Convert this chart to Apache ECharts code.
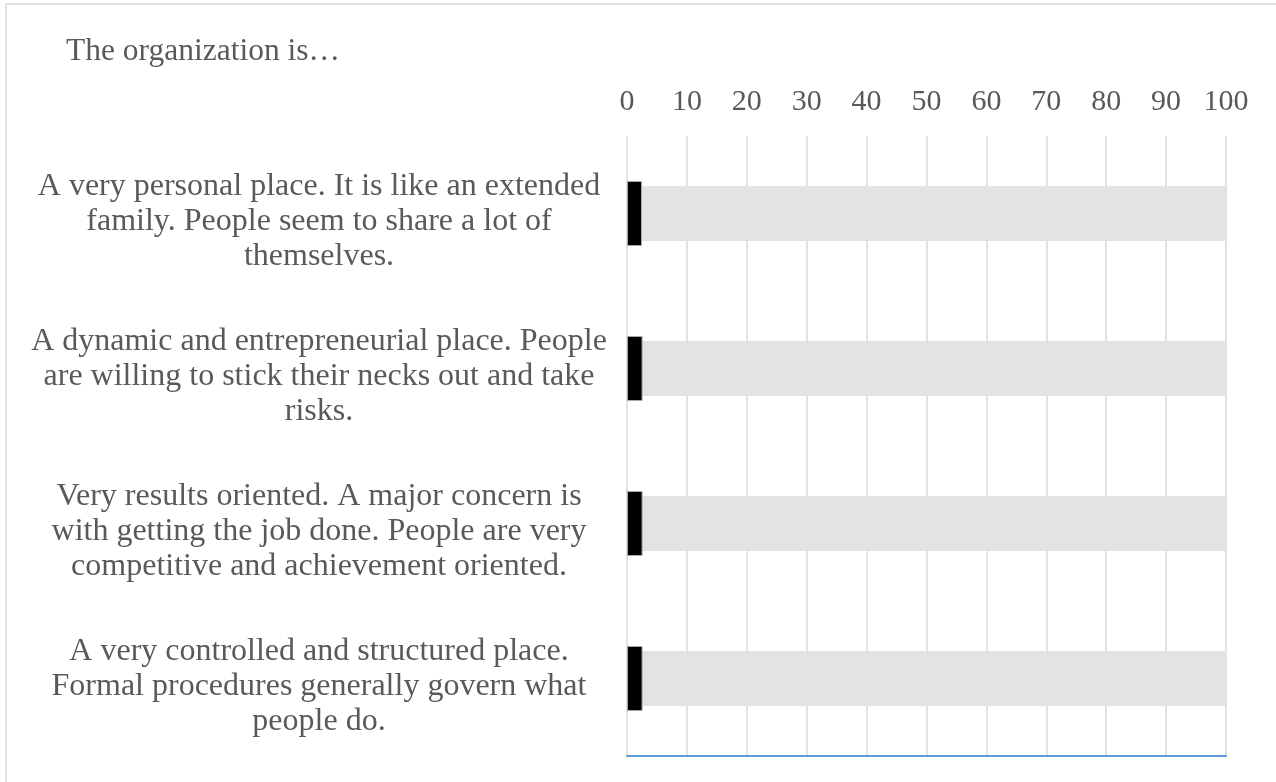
<!DOCTYPE html>
<html>
<head>
<meta charset="utf-8">
<script src="https://cdn.jsdelivr.net/npm/echarts@6/dist/echarts.min.js"></script>
<style>
html,body{margin:0;padding:0;background:#fff;}
#chart{width:1276px;height:782px;}
</style>
</head>
<body>
<div id="chart"></div>
<script>
const titleText = 'The organization is…';
const categories = [
  'A very personal place. It is like an extended\nfamily. People seem to share a lot of\nthemselves.',
  'A dynamic and entrepreneurial place. People\nare willing to stick their necks out and take\nrisks.',
  'Very results oriented. A major concern is\nwith getting the job done. People are very\ncompetitive and achievement oriented.',
  'A very controlled and structured place.\nFormal procedures generally govern what\npeople do.'
];
const scaleMax = [100, 100, 100, 100];
const scores = [2.5, 2.6, 2.6, 2.6];
const axisMin = 0, axisMax = 100, axisStep = 10;

const FONT = "'Liberation Serif', 'Times New Roman', serif";
const TXT = '#595959';

const chart = echarts.init(document.getElementById('chart'), null, {renderer: 'canvas'});
chart.setOption({
  animation: false,
  backgroundColor: '#ffffff',
  title: {
    text: titleText, left: 61, top: 31,
    textStyle: {fontFamily: FONT, fontSize: 31.5, fontWeight: 'normal', color: TXT}
  },
  graphic: [
    {type: 'line', shape: {x1: 6, y1: 4, x2: 1276, y2: 4}, style: {stroke: '#d9d9d9', lineWidth: 1.5}},
    {type: 'line', shape: {x1: 6, y1: 4, x2: 6, y2: 782}, style: {stroke: '#d9d9d9', lineWidth: 1.5}}
  ],
  grid: {left: 627, right: 50, top: 136, height: 620, containLabel: false},
  xAxis: [
    {
      type: 'value', position: 'top', min: axisMin, max: axisMax, interval: axisStep,
      axisLine: {show: false}, axisTick: {show: false},
      axisLabel: {fontFamily: FONT, fontSize: 30, color: TXT, margin: 19},
      splitLine: {show: true, lineStyle: {color: '#d9d9d9', width: 1.5}}
    },
    {
      type: 'value', position: 'bottom', min: axisMin, max: axisMax, interval: axisStep,
      axisLine: {show: true, onZero: false, lineStyle: {color: '#5b9bd5', width: 2}},
      axisTick: {show: false}, axisLabel: {show: false}, splitLine: {show: false}
    }
  ],
  yAxis: [
    {
      type: 'category', data: categories, inverse: true,
      axisLine: {show: false}, axisTick: {show: false},
      axisLabel: {
        fontFamily: FONT, fontSize: 32, color: TXT, align: 'center', margin: 308, lineHeight: 35,
        formatter: function (v) {
          return '{s| }\n' + v.split('\n').map(function (l) { return '{t|' + l + '}'; }).join('\n');
        },
        rich: {
          s: {fontSize: 2, lineHeight: 16},
          t: {fontFamily: FONT, fontSize: 32, color: TXT, lineHeight: 35, align: 'center'}
        }
      }
    },
    {
      type: 'category', data: categories, inverse: true, show: false
    }
  ],
  series: [
    {
      type: 'bar', xAxisIndex: 0, yAxisIndex: 0, data: scaleMax, barWidth: 55,
      itemStyle: {color: '#e3e3e3'}, z: 2
    },
    {
      type: 'bar', xAxisIndex: 0, yAxisIndex: 1, data: scores, barWidth: 65,
      itemStyle: {color: '#000000', borderColor: '#a6a6a6', borderWidth: 1}, z: 3
    }
  ]
});
</script>
</body>
</html>
